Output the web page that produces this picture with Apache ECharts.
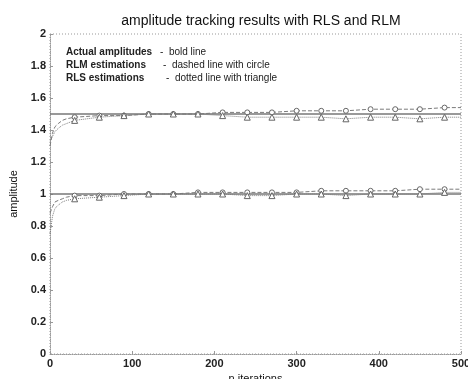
<!DOCTYPE html>
<html>
<head>
<meta charset="utf-8">
<script src="https://cdn.jsdelivr.net/npm/echarts@6/dist/echarts.min.js"></script>
<style>
  html, body { margin: 0; padding: 0; background: #fff; }
  #chart { width: 468px; height: 379px; }
</style>
</head>
<body>
<div id="chart"></div>
<script>
// x axis ticks
const xTicks = [0, 100, 200, 300, 400, 500]
const yTicks = [0, 0.2, 0.4, 0.6, 0.8, 1, 1.2, 1.4, 1.6, 1.8, 2]

// actual amplitudes (constant)
const actualIter = [0, 500]
const actualHigh = [1.5, 1.5]
const actualLow = [1.0, 1.0]

// estimation curves
const estIter = [0, 3, 6, 10, 15, 20, 30, 60, 90, 120, 150, 180, 210, 240, 270, 300, 330, 360, 390, 420, 450, 480, 500]
const rlmHigh = [1.30, 1.38, 1.42, 1.44, 1.46, 1.47, 1.48, 1.49, 1.49, 1.50, 1.50, 1.50, 1.51, 1.51, 1.51, 1.52, 1.52, 1.52, 1.53, 1.53, 1.53, 1.54, 1.54]
const rlsHigh = [1.33, 1.36, 1.39, 1.41, 1.43, 1.44, 1.46, 1.48, 1.49, 1.50, 1.50, 1.50, 1.49, 1.48, 1.48, 1.48, 1.48, 1.47, 1.48, 1.48, 1.47, 1.48, 1.48]
const rlmLow = [0.88, 0.92, 0.95, 0.96, 0.97, 0.98, 0.99, 0.99, 1.00, 1.00, 1.00, 1.01, 1.01, 1.01, 1.01, 1.01, 1.02, 1.02, 1.02, 1.02, 1.03, 1.03, 1.03]
const rlsLow = [0.75, 0.86, 0.91, 0.93, 0.95, 0.96, 0.97, 0.98, 0.99, 1.00, 1.00, 1.00, 1.00, 0.99, 0.99, 1.00, 1.00, 0.99, 1.00, 1.00, 1.00, 1.01, 1.01]

const legendLines = [
  ['Actual amplitudes', '-  bold line'],
  ['RLM estimations', '-  dashed line with circle'],
  ['RLS estimations', '-  dotted line with triangle']
]

const pair = (xs, ys) => xs.map((x, i) => [x, ys[i]])
// markers only every 30 iterations
const markEvery = (shape) => (value) => (value[0] > 0 && value[0] % 30 === 0 ? shape : 'none')

const lineGray = '#7a7a7a'

const chart = echarts.init(document.getElementById('chart'))

const estSeries = (name, xs, ys, dash, shape) => ({
  name,
  type: 'line',
  data: pair(xs, ys),
  smooth: false,
  symbol: markEvery(shape),
  symbolSize: shape === 'triangle' ? 6 : 5,
  showAllSymbol: true,
  lineStyle: { color: lineGray, width: 1, type: dash },
  itemStyle: { color: '#fff', borderColor: '#666', borderWidth: 1 },
  z: 3
})

chart.setOption({
  animation: false,
  title: {
    text: 'amplitude tracking results with RLS and RLM',
    left: 256,
    top: 9,
    textAlign: 'center',
    textStyle: { fontFamily: 'Liberation Sans', fontSize: 14, fontWeight: 'normal', color: '#111' }
  },
  grid: { left: 50, right: 7, top: 34, bottom: 25, containLabel: false, outerBoundsMode: 'none' },
  xAxis: {
    type: 'value',
    min: 0,
    max: 500,
    interval: 100,
    name: 'n iterations',
    nameLocation: 'middle',
    nameGap: 16,
    nameTextStyle: { fontFamily: 'Liberation Sans', fontSize: 11, color: '#111' },
    axisLine: { show: true, lineStyle: { color: '#999', type: 'dotted' } },
    axisTick: { show: true, inside: true, length: 3, lineStyle: { color: '#999' } },
    axisLabel: { fontFamily: 'Liberation Sans', fontSize: 11, fontWeight: 'bold', color: '#222', margin: 4 },
    splitLine: { show: false }
  },
  yAxis: {
    type: 'value',
    min: 0,
    max: 2,
    interval: 0.2,
    name: 'amplitude',
    nameLocation: 'middle',
    nameGap: 26,
    nameTextStyle: { fontFamily: 'Liberation Sans', fontSize: 11, color: '#111' },
    axisLine: { show: true, lineStyle: { color: '#999', type: 'dotted' } },
    axisTick: { show: true, inside: true, length: 3, lineStyle: { color: '#999' } },
    axisLabel: { fontFamily: 'Liberation Sans', fontSize: 11, fontWeight: 'bold', color: '#222', margin: 4 },
    splitLine: { show: false }
  },
  graphic: [
    // dotted frame around plot area
    {
      type: 'rect',
      shape: { x: 50, y: 34, width: 411, height: 320 },
      style: { fill: 'none', stroke: '#999', lineWidth: 1, lineDash: [1, 2] },
      silent: true
    },
    ...legendLines.flatMap((l, i) => [
      {
        type: 'text',
        left: 66,
        top: 47 + i * 13,
        style: { text: l[0], font: 'bold 10px Liberation Sans', fill: '#222' }
      },
      {
        type: 'text',
        left: 160 + i * 3,
        top: 47 + i * 13,
        style: { text: l[1], font: '10px Liberation Sans', fill: '#222' }
      }
    ])
  ],
  series: [
    {
      name: 'actual 1.5',
      type: 'line',
      data: pair(actualIter, actualHigh),
      symbol: 'none',
      lineStyle: { color: '#777', width: 1.3 },
      z: 2
    },
    {
      name: 'actual 1.0',
      type: 'line',
      data: pair(actualIter, actualLow),
      symbol: 'none',
      lineStyle: { color: '#777', width: 1.3 },
      z: 2
    },
    estSeries('RLM high', estIter, rlmHigh, 'dashed', 'circle'),
    estSeries('RLS high', estIter, rlsHigh, 'dotted', 'triangle'),
    estSeries('RLM low', estIter, rlmLow, 'dashed', 'circle'),
    estSeries('RLS low', estIter, rlsLow, 'dotted', 'triangle')
  ]
})
</script>
</body>
</html>
